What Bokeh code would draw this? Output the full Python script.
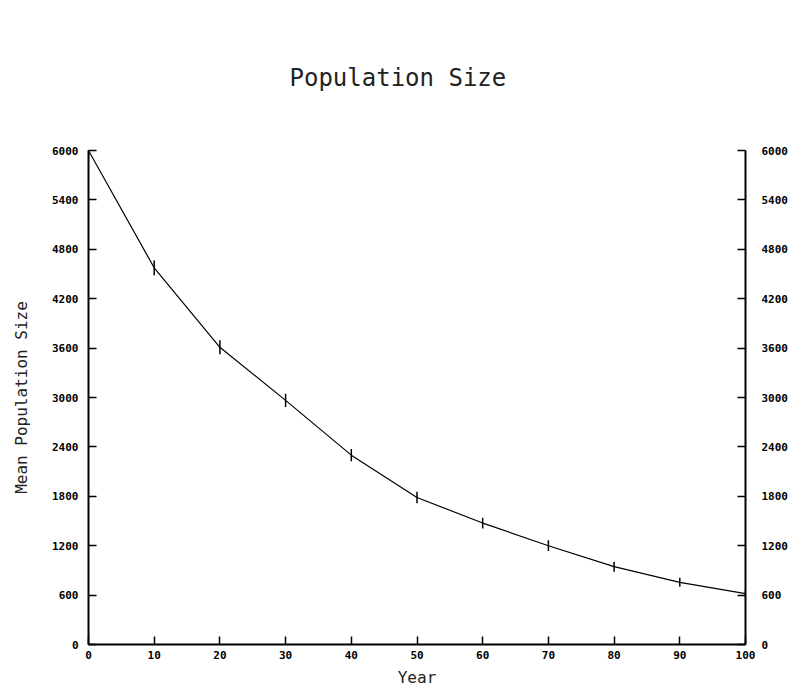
from bokeh.plotting import figure
from bokeh.models import LinearAxis, FixedTicker, Range1d, Title
from bokeh.embed import file_html
from bokeh.resources import INLINE

years = [0, 10, 20, 30, 40, 50, 60, 70, 80, 90, 100]
mean_pop = [6000, 4575, 3610, 2965, 2300, 1785, 1475, 1200, 945, 755, 618]
err = [90, 90, 85, 80, 75, 70, 65, 65, 60, 55, 50]
y_ticks = [0, 600, 1200, 1800, 2400, 3000, 3600, 4200, 4800, 5400, 6000]
x_ticks = [0, 10, 20, 30, 40, 50, 60, 70, 80, 90, 100]

FONT = "DejaVu Sans Mono"

p = figure(width=790, height=690, output_backend="svg", toolbar_location=None,
           x_range=Range1d(0, 100), y_range=Range1d(0, 6000),
           min_border_left=88, min_border_right=45, min_border_top=150, min_border_bottom=46)
p.title = Title(text="Population Size", align="left", text_font=FONT,
                text_font_size="24px", text_font_style="normal", text_color="#222222",
                standoff=118, offset=201)
p.outline_line_color = None
p.xgrid.visible = False
p.ygrid.visible = False
p.background_fill_color = "white"
p.border_fill_color = "white"

p.line(years, mean_pop, line_color="black", line_width=1.2)
lo = [m - e for m, e in zip(mean_pop, err)]
hi = [m + e for m, e in zip(mean_pop, err)]
p.segment(x0=years, y0=lo, x1=years, y1=hi, line_color="black", line_width=1.5)

def style(ax, ticks):
    ax.ticker = FixedTicker(ticks=ticks)
    ax.minor_tick_line_color = None
    ax.major_tick_in = 8
    ax.major_tick_out = 0
    ax.axis_line_width = 2
    ax.major_tick_line_width = 1.5
    ax.major_label_text_font = FONT
    ax.major_label_text_font_size = "11px"
    ax.major_label_text_font_style = "bold"
    ax.major_label_text_color = "black"
    ax.axis_label_text_font = FONT
    ax.axis_label_text_font_style = "normal"
    ax.axis_label_text_font_size = "16px"
    ax.axis_label_text_color = "#222222"

xa = p.xaxis[0]
style(xa, x_ticks)
xa.axis_label = "Year"
xa.major_label_standoff = 6
xa.axis_label_standoff = 6

ya = p.yaxis[0]
style(ya, y_ticks)
ya.axis_label = "Mean Population Size"
ya.major_label_standoff = 10
ya.axis_label_standoff = 18

ra = LinearAxis()
style(ra, y_ticks)
ra.major_label_standoff = 16
p.add_layout(ra, "right")

open("out.html", "w").write(file_html(p, INLINE))
